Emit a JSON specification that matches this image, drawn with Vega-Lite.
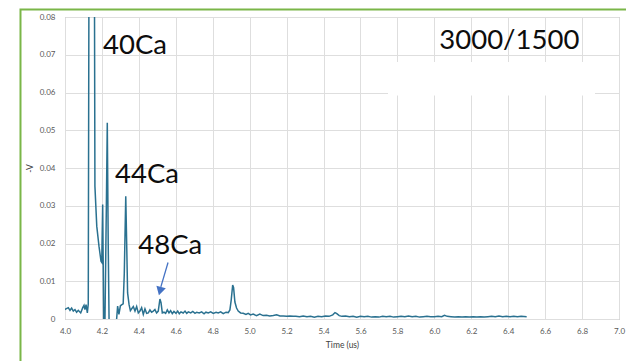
{
  "$schema": "https://vega.github.io/schema/vega-lite/v6.json",
  "autosize": "none",
  "width": 554,
  "height": 302,
  "padding": {"left": 65, "top": 17, "right": 7, "bottom": 42},
  "background": "white",
  "config": {
    "view": {"stroke": "#a6a6a6", "strokeWidth": 1},
    "axis": {
      "grid": true, "gridColor": "#dedede", "gridWidth": 1,
      "domain": false, "ticks": false,
      "labelFont": "Lato", "labelFontSize": 8, "labelColor": "#595959",
      "titleFont": "Lato", "titleFontSize": 8.5, "titleFontWeight": "normal", "titleColor": "#404040"
    }
  },
  "datasets": {
    "signal": [
      {"t": 4.000, "v": 0.0025}, {"t": 4.005, "v": 0.0027}, {"t": 4.018, "v": 0.0030}, {"t": 4.027, "v": 0.0023},
      {"t": 4.036, "v": 0.0029}, {"t": 4.045, "v": 0.0021}, {"t": 4.054, "v": 0.0025}, {"t": 4.063, "v": 0.0018},
      {"t": 4.072, "v": 0.0023}, {"t": 4.085, "v": 0.0016}, {"t": 4.096, "v": 0.0030}, {"t": 4.103, "v": 0.0036},
      {"t": 4.108, "v": 0.0025}, {"t": 4.114, "v": 0.0038}, {"t": 4.121, "v": 0.0016}, {"t": 4.126, "v": 0.0040},
      {"t": 4.131, "v": 0.12}, {"t": 4.140, "v": 0.25}, {"t": 4.150, "v": 0.25}, {"t": 4.158, "v": 0.12},
      {"t": 4.162, "v": 0.0352}, {"t": 4.172, "v": 0.0246}, {"t": 4.184, "v": 0.0193}, {"t": 4.195, "v": 0.0153},
      {"t": 4.199, "v": 0.0150}, {"t": 4.204, "v": 0.0303}, {"t": 4.210, "v": -0.002}, {"t": 4.216, "v": -0.002},
      {"t": 4.224, "v": 0.030}, {"t": 4.229, "v": 0.052}, {"t": 4.234, "v": 0.020}, {"t": 4.239, "v": -0.002},
      {"t": 4.250, "v": -0.003}, {"t": 4.265, "v": -0.003}, {"t": 4.278, "v": -0.001}, {"t": 4.285, "v": 0.0034},
      {"t": 4.292, "v": 0.0012}, {"t": 4.300, "v": 0.0035}, {"t": 4.308, "v": 0.0038}, {"t": 4.315, "v": 0.0040},
      {"t": 4.321, "v": 0.012}, {"t": 4.329, "v": 0.0325}, {"t": 4.334, "v": 0.020}, {"t": 4.339, "v": 0.0069},
      {"t": 4.347, "v": 0.0038}, {"t": 4.354, "v": 0.0022}, {"t": 4.361, "v": 0.0027}, {"t": 4.370, "v": 0.0033},
      {"t": 4.379, "v": 0.0021}, {"t": 4.388, "v": 0.0033}, {"t": 4.397, "v": 0.0016}, {"t": 4.406, "v": 0.0021},
      {"t": 4.415, "v": 0.0030}, {"t": 4.424, "v": 0.0012}, {"t": 4.433, "v": 0.0027}, {"t": 4.442, "v": 0.0015},
      {"t": 4.451, "v": 0.0016}, {"t": 4.460, "v": 0.0024}, {"t": 4.469, "v": 0.0018}, {"t": 4.478, "v": 0.0021},
      {"t": 4.487, "v": 0.0025}, {"t": 4.496, "v": 0.0016}, {"t": 4.505, "v": 0.0021}, {"t": 4.514, "v": 0.0053},
      {"t": 4.520, "v": 0.0043}, {"t": 4.527, "v": 0.0016}, {"t": 4.536, "v": 0.0018}, {"t": 4.545, "v": 0.0015},
      {"t": 4.554, "v": 0.0024}, {"t": 4.563, "v": 0.0016}, {"t": 4.572, "v": 0.0022}, {"t": 4.581, "v": 0.0014},
      {"t": 4.590, "v": 0.0020}, {"t": 4.601, "v": 0.0015}, {"t": 4.610, "v": 0.0021}, {"t": 4.619, "v": 0.0014},
      {"t": 4.628, "v": 0.0019}, {"t": 4.640, "v": 0.0016}, {"t": 4.650, "v": 0.0021}, {"t": 4.659, "v": 0.0015},
      {"t": 4.668, "v": 0.0019}, {"t": 4.681, "v": 0.0016}, {"t": 4.692, "v": 0.0020}, {"t": 4.704, "v": 0.0015},
      {"t": 4.713, "v": 0.0018}, {"t": 4.727, "v": 0.0016}, {"t": 4.740, "v": 0.0019}, {"t": 4.753, "v": 0.0014},
      {"t": 4.763, "v": 0.0018}, {"t": 4.776, "v": 0.0016}, {"t": 4.789, "v": 0.0019}, {"t": 4.803, "v": 0.0015},
      {"t": 4.818, "v": 0.0018}, {"t": 4.830, "v": 0.0016}, {"t": 4.843, "v": 0.0019}, {"t": 4.857, "v": 0.0014},
      {"t": 4.872, "v": 0.0018}, {"t": 4.884, "v": 0.0017}, {"t": 4.893, "v": 0.0024}, {"t": 4.900, "v": 0.0050},
      {"t": 4.908, "v": 0.0090}, {"t": 4.913, "v": 0.0083}, {"t": 4.920, "v": 0.0045}, {"t": 4.929, "v": 0.0029},
      {"t": 4.938, "v": 0.0021}, {"t": 4.951, "v": 0.0016}, {"t": 4.965, "v": 0.0015}, {"t": 4.980, "v": 0.0012},
      {"t": 4.992, "v": 0.0015}, {"t": 5.005, "v": 0.0011}, {"t": 5.019, "v": 0.0013}, {"t": 5.037, "v": 0.0009},
      {"t": 5.055, "v": 0.0013}, {"t": 5.073, "v": 0.0009}, {"t": 5.091, "v": 0.0010}, {"t": 5.109, "v": 0.0008},
      {"t": 5.128, "v": 0.0009}, {"t": 5.146, "v": 0.0011}, {"t": 5.164, "v": 0.0008}, {"t": 5.182, "v": 0.0008},
      {"t": 5.200, "v": 0.0007}, {"t": 5.218, "v": 0.0008}, {"t": 5.236, "v": 0.0007}, {"t": 5.250, "v": 0.0007},
      {"t": 5.270, "v": 0.0006}, {"t": 5.290, "v": 0.0008}, {"t": 5.310, "v": 0.0006}, {"t": 5.330, "v": 0.0007},
      {"t": 5.350, "v": 0.0005}, {"t": 5.370, "v": 0.0007}, {"t": 5.390, "v": 0.0006}, {"t": 5.410, "v": 0.0008},
      {"t": 5.430, "v": 0.0007}, {"t": 5.450, "v": 0.0011}, {"t": 5.462, "v": 0.0017}, {"t": 5.472, "v": 0.0014},
      {"t": 5.485, "v": 0.0009}, {"t": 5.500, "v": 0.0007}, {"t": 5.520, "v": 0.0008}, {"t": 5.540, "v": 0.0006},
      {"t": 5.560, "v": 0.0007}, {"t": 5.580, "v": 0.0005}, {"t": 5.600, "v": 0.0007}, {"t": 5.620, "v": 0.0006},
      {"t": 5.640, "v": 0.0007}, {"t": 5.660, "v": 0.0005}, {"t": 5.680, "v": 0.0006}, {"t": 5.700, "v": 0.0005},
      {"t": 5.720, "v": 0.0007}, {"t": 5.740, "v": 0.0006}, {"t": 5.760, "v": 0.0007}, {"t": 5.780, "v": 0.0005},
      {"t": 5.800, "v": 0.0006}, {"t": 5.820, "v": 0.0007}, {"t": 5.840, "v": 0.0006}, {"t": 5.860, "v": 0.0008},
      {"t": 5.880, "v": 0.0006}, {"t": 5.900, "v": 0.0007}, {"t": 5.920, "v": 0.0005}, {"t": 5.940, "v": 0.0006},
      {"t": 5.960, "v": 0.0007}, {"t": 5.980, "v": 0.0006}, {"t": 6.000, "v": 0.0006}, {"t": 6.020, "v": 0.0007},
      {"t": 6.040, "v": 0.0006}, {"t": 6.055, "v": 0.0010}, {"t": 6.070, "v": 0.0007}, {"t": 6.090, "v": 0.0006},
      {"t": 6.110, "v": 0.0005}, {"t": 6.130, "v": 0.0006}, {"t": 6.150, "v": 0.0005}, {"t": 6.170, "v": 0.0006},
      {"t": 6.190, "v": 0.0005}, {"t": 6.210, "v": 0.0006}, {"t": 6.230, "v": 0.0005}, {"t": 6.250, "v": 0.0006},
      {"t": 6.270, "v": 0.0005}, {"t": 6.290, "v": 0.0006}, {"t": 6.310, "v": 0.0007}, {"t": 6.330, "v": 0.0006},
      {"t": 6.350, "v": 0.0008}, {"t": 6.370, "v": 0.0006}, {"t": 6.390, "v": 0.0007}, {"t": 6.410, "v": 0.0006},
      {"t": 6.430, "v": 0.0007}, {"t": 6.450, "v": 0.0006}, {"t": 6.470, "v": 0.0007}, {"t": 6.500, "v": 0.0006}
    ],
    "labels": [
      {"t": 4.206, "v": 0.0701, "label": "40Ca"},
      {"t": 4.271, "v": 0.0361, "label": "44Ca"},
      {"t": 4.397, "v": 0.0171, "label": "48Ca"},
      {"t": 6.027, "v": 0.0714, "label": "3000/1500"}
    ],
    "arrow": [
      {"t": 4.558, "v": 0.01497, "t2": 4.519, "v2": 0.0085}
    ],
    "arrowhead": [
      {"t": 4.5145, "v": 0.0074}
    ],
    "mask": [
      {"t": 5.749, "t2": 6.87, "v": 0.0681, "v2": 0.0592}
    ],
    "frame": [
      {"t": 3.759, "t2": 7.3, "v": 0.08199, "v2": -0.04}
    ]
  },
  "encoding": {
    "x": {
      "field": "t", "type": "quantitative",
      "scale": {"domain": [4, 7], "nice": false, "zero": false},
      "axis": {
        "title": "Time (us)", "values": [4.0, 4.2, 4.4, 4.6, 4.8, 5.0, 5.2, 5.4, 5.6, 5.8, 6.0, 6.2, 6.4, 6.6, 6.8, 7.0],
        "labelExpr": "format(datum.value, '.1f')", "labelPadding": 8, "titlePadding": 5, "labelFlush": false
      }
    },
    "y": {
      "field": "v", "type": "quantitative",
      "scale": {"domain": [0, 0.08], "nice": false},
      "axis": {
        "title": "-V", "values": [0, 0.01, 0.02, 0.03, 0.04, 0.05, 0.06, 0.07, 0.08],
        "labelExpr": "datum.value == 0 ? '0' : format(datum.value, '.2f')", "labelPadding": 10, "titlePadding": 5, "labelFlush": false
      }
    }
  },
  "layer": [
    {
      "data": {"name": "mask"},
      "mark": {"type": "rect", "fill": "white", "stroke": null},
      "encoding": {"x2": {"field": "t2"}, "y2": {"field": "v2"}}
    },
    {
      "data": {"name": "signal"},
      "mark": {"type": "line", "color": "#2a7190", "strokeWidth": 1.5, "clip": true}
    },
    {
      "data": {"name": "labels"},
      "mark": {"type": "text", "font": "Lato", "fontSize": 27.5, "align": "left", "baseline": "alphabetic", "color": "#0d0d0d"},
      "encoding": {"text": {"field": "label"}}
    },
    {
      "data": {"name": "arrow"},
      "mark": {"type": "rule", "color": "#4472c4", "strokeWidth": 1.3},
      "encoding": {"x2": {"field": "t2"}, "y2": {"field": "v2"}}
    },
    {
      "data": {"name": "arrowhead"},
      "mark": {"type": "point", "shape": "triangle-down", "filled": true, "color": "#4472c4", "size": 95, "angle": 15, "opacity": 1}
    },
    {
      "data": {"name": "frame"},
      "mark": {"type": "rect", "fill": null, "stroke": "#7ab648", "strokeWidth": 2, "clip": false},
      "encoding": {"x2": {"field": "t2"}, "y2": {"field": "v2"}}
    }
  ]
}
